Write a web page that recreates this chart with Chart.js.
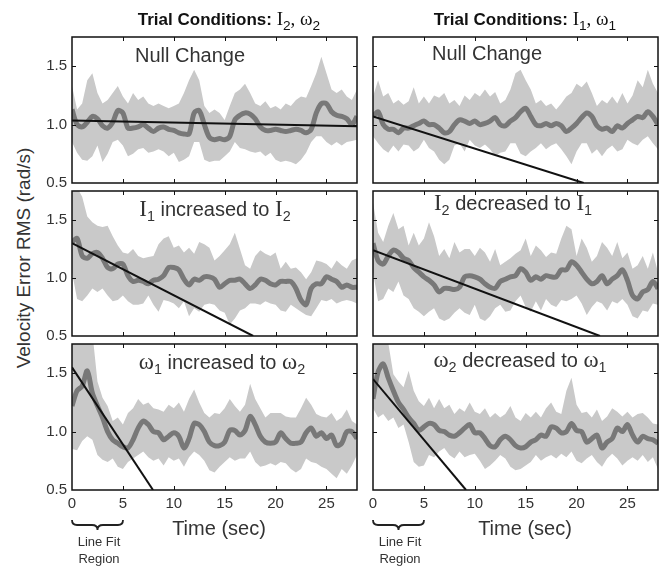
<!DOCTYPE html>
<html>
<head>
<meta charset="utf-8">
<script src="https://cdn.jsdelivr.net/npm/chart.js@4.4.0/dist/chart.umd.min.js"></script>
<style>
  body { margin: 0; background: #fff; }
  #wrap { position: relative; width: 661px; height: 567px; overflow: hidden;
          font-family: "Liberation Sans", Arial, sans-serif; color: #222; }
  canvas { position: absolute; }
  .txt { position: absolute; white-space: nowrap; line-height: 1; transform: translateX(-50%); z-index: 5; }
  .serif { font-family: "Liberation Serif", "DejaVu Serif", serif; }
  sub { font-family: "Liberation Sans", Arial, sans-serif; font-size: 0.72em; vertical-align: -0.38em; line-height: 0; }
  .title { font-size: 17px; font-weight: bold; color: #111; }
  .title .serif { font-weight: normal; font-size: 19px; }
  .plab { font-size: 20px; color: #333; }
  .plab .serif { font-size: 23px; }
  .xlab { font-size: 20px; color: #333; }
  .fit { font-size: 13px; line-height: 17px; color: #333; text-align: center; }
  #ylab { position: absolute; left: -126px; top: 246px; width: 300px; height: 24px; line-height: 24px;
          text-align: center; font-size: 19px; color: #333; transform: rotate(-90deg); white-space: nowrap; }
  svg { position: absolute; left: 0; top: 0; z-index: 4; }
</style>
</head>
<body>
<div id="wrap">
  <div class="txt title" style="left:229px; top:9px;">Trial Conditions: <span class="serif">I<sub>2</sub>, ω<sub>2</sub></span></div>
  <div class="txt title" style="left:525px; top:9px;">Trial Conditions: <span class="serif">I<sub>1</sub>, ω<sub>1</sub></span></div>

  <div class="txt plab" style="left:190px; top:45px;">Null Change</div>
  <div class="txt plab" style="left:487px; top:43px;">Null Change</div>
  <div class="txt plab" style="left:215px; top:197px;"><span class="serif">I</span><sub>1</sub> increased to <span class="serif">I</span><sub>2</sub></div>
  <div class="txt plab" style="left:513px; top:191px;"><span class="serif">I</span><sub>2</sub> decreased to <span class="serif">I</span><sub>1</sub></div>
  <div class="txt plab" style="left:222px; top:350px;"><span class="serif">ω</span><sub>1</sub> increased to <span class="serif">ω</span><sub>2</sub></div>
  <div class="txt plab" style="left:520px; top:348px;"><span class="serif">ω</span><sub>2</sub> decreased to <span class="serif">ω</span><sub>1</sub></div>

  <div id="ylab">Velocity Error RMS (rad/s)</div>
  <div class="txt xlab" style="left:219px; top:518px;">Time (sec)</div>
  <div class="txt xlab" style="left:525px; top:518px;">Time (sec)</div>

  <svg width="661" height="567">
    <path d="M72,520 Q72,525 77,525 L92,525 Q97.5,525 97.5,530 Q97.5,525 103,525 L118,525 Q123,525 123,520" fill="none" stroke="#222" stroke-width="1.8"/>
    <path d="M373,520 Q373,525 378,525 L393,525 Q398.5,525 398.5,530 Q398.5,525 404,525 L419,525 Q424,525 424,520" fill="none" stroke="#222" stroke-width="1.8"/>
  </svg>
  <div class="txt fit" style="left:99px; top:533px;">Line Fit<br>Region</div>
  <div class="txt fit" style="left:400px; top:533px;">Line Fit<br>Region</div>
</div>

<script>
// time axis (sec), one sample every half second
const timeSec = [0,0.5,1,1.5,2,2.5,3,3.5,4,4.5,5,5.5,6,6.5,7,7.5,8,8.5,9,9.5,10,10.5,11,11.5,12,12.5,13,13.5,14,14.5,15,15.5,16,16.5,17,17.5,18,18.5,19,19.5,20,20.5,21,21.5,22,22.5,23,23.5,24,24.5,25,25.5,26,26.5,27,27.5,28];
const xTicks = [0, 5, 10, 15, 20, 25];
const yTicks = [0.5, 1.0, 1.5];

// Null change, I2 w2
const nullA_mean = [1.13,1.00,0.98,1.02,1.07,1.05,0.99,0.97,1.02,1.12,1.10,0.97,0.97,0.98,1.00,0.97,0.94,0.97,0.98,0.96,0.95,0.93,0.92,0.92,1.10,1.12,1.00,0.89,0.87,0.88,0.87,0.90,1.04,1.08,1.10,1.09,1.05,0.98,0.95,0.95,0.96,0.95,0.94,0.95,0.96,0.95,0.93,0.96,1.10,1.18,1.18,1.11,1.08,1.07,1.05,1.00,1.07];
const nullA_upper = [1.33,1.13,1.18,1.38,1.44,1.27,1.18,1.21,1.27,1.33,1.24,1.18,1.27,1.21,1.24,1.18,1.16,1.18,1.16,1.14,1.16,1.18,1.27,1.38,1.47,1.38,1.16,1.10,1.13,1.10,1.04,1.16,1.27,1.30,1.35,1.27,1.18,1.16,1.20,1.14,1.16,1.13,1.18,1.16,1.21,1.24,1.23,1.33,1.44,1.58,1.44,1.30,1.27,1.30,1.24,1.21,1.30];
const nullA_lower = [0.85,0.76,0.70,0.69,0.73,0.82,0.68,0.75,0.85,0.87,0.82,0.73,0.75,0.79,0.80,0.76,0.77,0.79,0.77,0.73,0.76,0.68,0.70,0.73,0.85,0.85,0.70,0.68,0.69,0.69,0.73,0.77,0.85,0.80,0.79,0.77,0.76,0.77,0.73,0.76,0.70,0.68,0.69,0.68,0.66,0.70,0.76,0.85,0.90,0.90,0.85,0.82,0.85,0.82,0.85,0.86,0.87];
const nullA_fitX = [0, 28];
const nullA_fitY = [1.035, 0.985];

// Null change, I1 w1
const nullB_mean = [1.07,1.11,1.00,0.96,0.96,0.93,0.97,0.97,0.99,1.01,1.03,1.00,1.00,0.97,0.93,0.94,1.00,1.04,1.03,1.01,1.03,1.00,1.01,1.03,1.06,1.00,0.99,1.03,1.06,1.11,1.14,1.07,1.00,0.99,1.01,0.99,1.01,0.99,0.94,0.97,1.01,1.06,1.10,1.07,0.99,0.96,0.97,0.94,0.99,0.97,1.01,1.04,1.07,1.06,1.11,1.07,1.00];
const nullB_upper = [1.24,1.38,1.24,1.27,1.18,1.21,1.17,1.20,1.32,1.18,1.24,1.18,1.25,1.23,1.27,1.18,1.21,1.16,1.25,1.21,1.27,1.24,1.30,1.24,1.28,1.18,1.21,1.30,1.44,1.47,1.38,1.30,1.18,1.21,1.16,1.18,1.13,1.18,1.24,1.27,1.35,1.32,1.37,1.27,1.16,1.21,1.18,1.24,1.18,1.27,1.18,1.25,1.38,1.32,1.47,1.35,1.27];
const nullB_lower = [0.90,0.84,0.79,0.76,0.82,0.77,0.83,0.82,0.77,0.80,0.87,0.80,0.77,0.70,0.66,0.70,0.82,0.84,0.77,0.87,0.82,0.80,0.83,0.79,0.73,0.76,0.77,0.84,0.84,0.75,0.73,0.77,0.80,0.84,0.79,0.82,0.84,0.79,0.73,0.66,0.77,0.84,0.84,0.75,0.79,0.73,0.79,0.82,0.77,0.79,0.87,0.84,0.82,0.87,0.90,0.84,0.79];
const nullB_fitX = [0, 20.7];
const nullB_fitY = [1.07, 0.5];

// I1 increased to I2
const incI_mean = [1.31,1.34,1.19,1.17,1.21,1.22,1.17,1.09,1.08,1.12,1.12,1.02,0.97,0.98,0.97,0.95,0.98,0.99,1.02,1.09,1.09,1.07,0.99,0.94,0.99,0.98,1.01,1.01,0.99,0.92,0.95,0.98,0.98,0.99,0.95,0.91,0.94,0.99,0.98,0.95,0.94,0.97,0.97,0.97,0.91,0.81,0.77,0.91,0.95,0.95,1.01,0.99,0.97,0.92,0.94,0.92,0.92];
const incI_upper = [1.85,1.78,1.70,1.53,1.48,1.45,1.44,1.45,1.36,1.28,1.22,1.21,1.25,1.19,1.17,1.18,1.19,1.29,1.34,1.36,1.26,1.28,1.22,1.26,1.21,1.31,1.29,1.26,1.15,1.19,1.24,1.29,1.39,1.25,1.11,1.08,1.19,1.24,1.21,1.19,1.22,1.08,1.14,1.08,1.09,1.05,0.99,1.05,1.15,1.14,1.12,1.08,1.15,1.11,1.08,1.15,1.17];
const incI_lower = [1.05,0.82,0.80,0.85,0.91,0.88,0.91,0.85,0.80,0.81,0.85,0.80,0.77,0.77,0.78,0.85,0.77,0.71,0.81,0.80,0.78,0.74,0.80,0.67,0.74,0.71,0.77,0.78,0.77,0.72,0.70,0.60,0.65,0.72,0.74,0.78,0.78,0.77,0.80,0.78,0.77,0.72,0.71,0.77,0.74,0.71,0.68,0.67,0.74,0.81,0.80,0.82,0.78,0.80,0.81,0.80,0.78];
const incI_fitX = [0, 17.8];
const incI_fitY = [1.30, 0.5];

// I2 decreased to I1
const decI_mean = [1.30,1.15,1.12,1.19,1.24,1.22,1.17,1.15,1.09,1.05,1.01,0.98,0.94,0.88,0.91,0.91,0.90,0.92,1.01,1.02,1.01,0.99,0.95,0.92,0.91,0.97,0.99,1.01,1.02,1.08,1.05,0.98,1.01,0.99,1.02,1.01,1.01,1.07,1.07,1.14,1.11,1.05,0.99,0.95,0.97,1.02,0.95,0.99,1.02,1.07,0.98,0.85,0.82,0.88,0.90,0.97,0.91];
const decI_upper = [1.65,1.39,1.31,1.45,1.56,1.42,1.45,1.28,1.39,1.28,1.34,1.48,1.36,1.19,1.25,1.17,1.31,1.22,1.25,1.25,1.19,1.26,1.22,1.14,1.25,1.11,1.14,1.17,1.21,1.24,1.34,1.19,1.28,1.24,1.18,1.22,1.21,1.34,1.45,1.42,1.19,1.34,1.26,1.14,1.19,1.31,1.26,1.19,1.31,1.17,1.22,1.08,1.11,1.19,1.08,1.22,1.05];
const decI_lower = [1.05,0.80,0.82,0.91,0.88,0.97,0.85,0.82,0.74,0.71,0.67,0.71,0.74,0.65,0.63,0.65,0.70,0.74,0.70,0.68,0.77,0.65,0.63,0.67,0.74,0.77,0.71,0.72,0.80,0.85,0.75,0.71,0.80,0.72,0.82,0.77,0.75,0.81,0.80,0.82,0.85,0.78,0.68,0.75,0.80,0.78,0.72,0.80,0.78,0.82,0.77,0.67,0.65,0.72,0.71,0.78,0.77];
const decI_fitX = [0, 22.3];
const decI_fitY = [1.24, 0.5];

// w1 increased to w2
const incW_mean = [1.22,1.35,1.39,1.52,1.33,1.22,1.12,1.00,0.93,0.90,0.87,0.86,0.93,1.03,1.09,1.06,1.00,0.99,0.93,0.96,0.99,0.96,0.86,0.94,1.07,1.06,1.00,0.91,0.88,0.88,0.91,1.01,1.01,0.97,1.01,1.13,1.06,0.96,0.91,0.90,0.91,0.99,0.94,0.90,0.90,0.91,0.99,1.03,0.96,0.99,0.94,0.97,0.88,0.90,1.00,1.00,0.94];
const incW_upper = [1.90,1.90,1.90,1.90,1.85,1.43,1.29,1.22,1.09,1.12,1.06,1.16,1.20,1.28,1.23,1.25,1.20,1.19,1.17,1.23,1.20,1.25,1.17,1.28,1.36,1.25,1.16,1.12,1.16,1.15,1.20,1.28,1.22,1.17,1.23,1.41,1.28,1.20,1.12,1.16,1.16,1.16,1.13,1.12,1.12,1.20,1.29,1.23,1.15,1.13,1.12,1.16,1.09,1.12,1.19,1.09,1.06];
const incW_lower = [0.85,0.84,0.92,0.96,0.93,0.80,0.76,0.74,0.77,0.70,0.68,0.74,0.77,0.80,0.83,0.78,0.75,0.77,0.71,0.78,0.75,0.77,0.70,0.78,0.83,0.80,0.75,0.67,0.65,0.70,0.74,0.78,0.75,0.77,0.77,0.83,0.74,0.70,0.71,0.73,0.71,0.74,0.73,0.68,0.65,0.68,0.77,0.74,0.73,0.70,0.68,0.64,0.60,0.68,0.64,0.71,0.80];
const incW_fitX = [0, 7.96];
const incW_fitY = [1.55, 0.5];

// w2 decreased to w1
const decW_mean = [1.28,1.51,1.58,1.46,1.35,1.25,1.19,1.12,1.07,1.01,1.04,1.07,1.06,1.01,1.00,0.97,0.96,0.99,1.03,1.06,0.99,0.99,0.94,0.88,0.87,0.93,0.96,0.93,0.88,0.86,0.87,0.91,0.93,0.97,0.96,1.04,1.03,0.99,1.00,1.07,1.01,1.00,0.91,0.94,0.97,0.86,0.91,0.94,1.03,1.00,1.06,0.97,0.91,0.96,0.94,0.93,0.90];
const decW_upper = [1.75,1.80,1.78,1.76,1.49,1.43,1.38,1.52,1.35,1.26,1.22,1.29,1.20,1.28,1.20,1.23,1.15,1.20,1.17,1.25,1.17,1.15,1.20,1.12,1.16,1.12,1.15,1.22,1.12,1.09,1.16,1.12,1.17,1.12,1.20,1.25,1.17,1.15,1.35,1.46,1.23,1.16,1.17,1.12,1.19,1.09,1.13,1.20,1.17,1.13,1.17,1.12,1.15,1.16,1.12,1.07,1.06];
const decW_lower = [1.20,1.12,1.15,1.09,1.12,1.03,1.06,0.91,0.74,0.70,0.71,0.80,0.78,0.83,0.86,0.80,0.77,0.83,0.78,0.80,0.81,0.75,0.68,0.71,0.75,0.80,0.77,0.70,0.67,0.68,0.71,0.74,0.80,0.75,0.78,0.80,0.77,0.81,0.78,0.83,0.75,0.73,0.77,0.80,0.74,0.70,0.77,0.81,0.77,0.71,0.75,0.78,0.75,0.80,0.74,0.78,0.68];
const decW_fitX = [0, 9.14];
const decW_fitY = [1.45, 0.5];

const BAND = 'rgb(201,201,201)';
const MEAN = 'rgb(120,120,120)';
const AXIS_W = 50, AXIS_H = 28, PAD_T = 14, PAD_R = 3, PLOT_W = 285;

// panel placement: plot area left/top/height in page pixels
const panels = [
  { left: 72,  top: 37,  h: 146, mean: nullA_mean, upper: nullA_upper, lower: nullA_lower, fx: nullA_fitX, fy: nullA_fitY, yLab: true,  xLab: false },
  { left: 373, top: 37,  h: 146, mean: nullB_mean, upper: nullB_upper, lower: nullB_lower, fx: nullB_fitX, fy: nullB_fitY, yLab: false, xLab: false },
  { left: 72,  top: 191, h: 145, mean: incI_mean,  upper: incI_upper,  lower: incI_lower,  fx: incI_fitX,  fy: incI_fitY,  yLab: true,  xLab: false },
  { left: 373, top: 191, h: 145, mean: decI_mean,  upper: decI_upper,  lower: decI_lower,  fx: decI_fitX,  fy: decI_fitY,  yLab: false, xLab: false },
  { left: 72,  top: 344, h: 146, mean: incW_mean,  upper: incW_upper,  lower: incW_lower,  fx: incW_fitX,  fy: incW_fitY,  yLab: true,  xLab: true },
  { left: 373, top: 344, h: 146, mean: decW_mean,  upper: decW_upper,  lower: decW_lower,  fx: decW_fitX,  fy: decW_fitY,  yLab: false, xLab: true }
];

const pts = (xs, ys) => xs.map((x, i) => ({ x: x, y: ys[i] }));

// matlab style box with inward ticks
const framePlugin = {
  id: 'frame',
  afterDraw(chart) {
    const { ctx, chartArea: a } = chart;
    const x = chart.scales.x, y = chart.scales.y;
    ctx.save();
    ctx.strokeStyle = '#111';
    ctx.lineWidth = 1.5;
    ctx.strokeRect(a.left, a.top, a.right - a.left, a.bottom - a.top);
    ctx.lineWidth = 1;
    ctx.beginPath();
    xTicks.slice(1).forEach(v => {
      const px = Math.round(x.getPixelForValue(v)) + 0.5;
      ctx.moveTo(px, a.bottom); ctx.lineTo(px, a.bottom - 4);
      ctx.moveTo(px, a.top); ctx.lineTo(px, a.top + 4);
    });
    yTicks.slice(1).forEach(v => {
      const py = Math.round(y.getPixelForValue(v)) + 0.5;
      ctx.moveTo(a.left, py); ctx.lineTo(a.left + 4, py);
      ctx.moveTo(a.right, py); ctx.lineTo(a.right - 4, py);
    });
    ctx.stroke();
    ctx.restore();
  }
};

const wrap = document.getElementById('wrap');
panels.forEach(p => {
  const cv = document.createElement('canvas');
  cv.width = AXIS_W + PLOT_W + PAD_R;
  cv.height = PAD_T + p.h + AXIS_H;
  cv.style.left = (p.left - AXIS_W) + 'px';
  cv.style.top = (p.top - PAD_T) + 'px';
  wrap.appendChild(cv);

  new Chart(cv, {
    type: 'line',
    data: {
      datasets: [
        { data: pts(timeSec, p.upper), fill: '+1', backgroundColor: BAND, borderWidth: 0, pointRadius: 0, order: 3, clip: 0 },
        { data: pts(timeSec, p.lower), fill: false, borderWidth: 0, pointRadius: 0, order: 4, clip: 0 },
        { data: pts(timeSec, p.mean), fill: false, borderColor: MEAN, borderWidth: 5, pointRadius: 0, tension: 0.3, order: 1, clip: 0 },
        { data: pts(p.fx, p.fy), fill: false, borderColor: '#111', borderWidth: 2, pointRadius: 0, order: 0, clip: 0 }
      ]
    },
    options: {
      responsive: false,
      animation: false,
      events: [],
      layout: { padding: { top: PAD_T, right: PAD_R, left: 0, bottom: 0 } },
      plugins: { legend: { display: false }, tooltip: { enabled: false } },
      scales: {
        x: {
          type: 'linear', min: 0, max: 28,
          afterBuildTicks: s => { s.ticks = xTicks.map(v => ({ value: v })); },
          afterFit: s => { s.height = AXIS_H; },
          grid: { display: false, drawTicks: false },
          border: { display: false },
          ticks: { display: p.xLab, padding: 5, maxRotation: 0, autoSkip: false, color: '#333',
                   font: { family: 'Liberation Sans', size: 15 } }
        },
        y: {
          min: 0.5, max: 1.75,
          afterBuildTicks: s => { s.ticks = yTicks.map(v => ({ value: v })); },
          afterFit: s => { s.width = AXIS_W; },
          grid: { display: false, drawTicks: false },
          border: { display: false },
          ticks: { display: p.yLab, padding: 5, color: '#333', callback: v => Number(v).toFixed(1),
                   font: { family: 'Liberation Sans', size: 15 } }
        }
      }
    },
    plugins: [framePlugin]
  });
});
</script>
</body>
</html>
